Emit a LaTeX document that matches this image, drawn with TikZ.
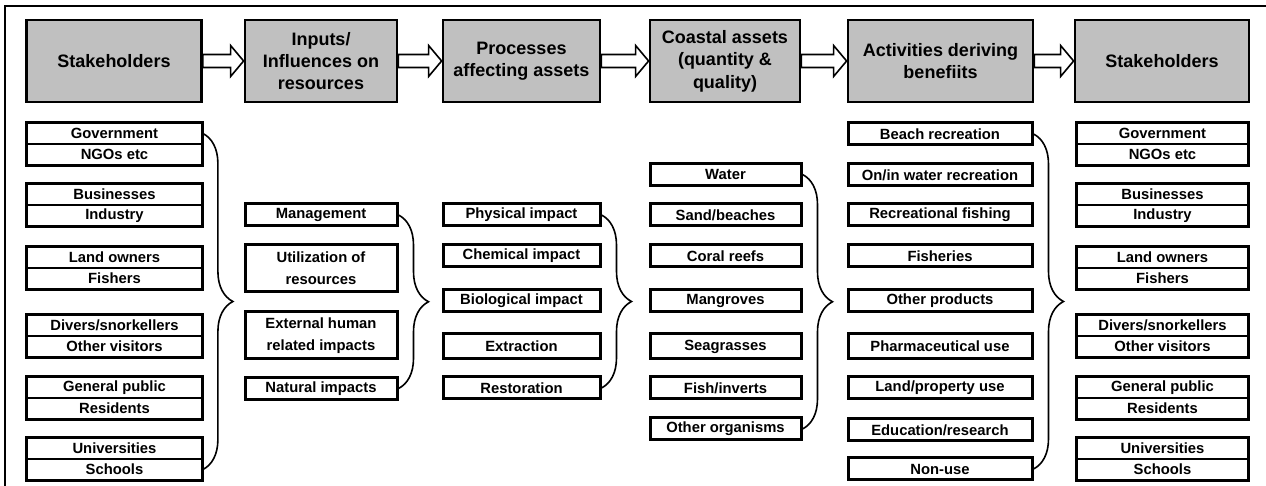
\documentclass[tikz,border=0pt]{standalone}
\usepackage{fontspec}
\setmainfont{Liberation Sans}
\usetikzlibrary{calc,decorations.pathreplacing}
\definecolor{headgray}{HTML}{C0C0C0}
\tikzset{
  head/.style={draw, line width=1.4pt, fill=headgray, minimum width=#1, minimum height=41pt,
    inner sep=0pt, align=center, font=\bfseries\fontsize{9}{11.2}\selectfont},
  item/.style={draw, line width=1.5pt, minimum width=#1, minimum height=11pt,
    inner sep=0pt, align=center, font=\bfseries\fontsize{7.4}{11}\selectfont},
  cell/.style={draw, line width=0.9pt, minimum width=#1, minimum height=10.5pt,
    inner sep=0pt, align=center, font=\bfseries\fontsize{7.4}{11}\selectfont},
  pairbox/.style={line width=1.5pt},
  flow/.style={draw, fill=white, line width=0.8pt, line join=miter},
  grp/.style={decorate, decoration={brace, amplitude=15pt}, line width=0.8pt},
  frame/.style={line width=1pt}
}
\newcommand\flowarrow[2]{%
  \draw[flow] ($(#1.east)+(0,-6.5)$) -- ($(#2.west)+(-13,-6.5)$) -- ($(#2.west)+(-13,-15.5)$)
    -- (#2.west) -- ($(#2.west)+(-13,15.5)$) -- ($(#2.west)+(-13,6.5)$) -- ($(#1.east)+(0,6.5)$) -- cycle;}
\begin{document}
\begin{tikzpicture}[x=0.5pt,y=-0.5pt]
\useasboundingbox (0,0) rectangle (1266,486);
\draw[frame] (5,486) -- (5,6) -- (1266,6);

\node[head=87.5pt] (stakeL) at (114,61) {Stakeholders};
\node[head=76pt] (inputs) at (321,61) {Inputs/\\Influences on\\resources};
\node[head=78.5pt] (proc) at (521.5,61) {Processes\\affecting assets};
\node[head=75pt] (assets) at (725,61) {Coastal assets\\(quantity \&\\quality)};
\node[head=92.5pt] (activ) at (940.5,61) {Activities deriving\\benefiits};
\node[head=87pt] (stakeR) at (1162,61) {Stakeholders};
\flowarrow{stakeL}{inputs}
\flowarrow{inputs}{proc}
\flowarrow{proc}{assets}
\flowarrow{assets}{activ}
\flowarrow{activ}{stakeR}

\node[cell=87.5pt] (gov) at (114.5,133.5) {Government};
\node[cell=87.5pt] (ngo) at (114.5,154.5) {NGOs etc};
\node[cell=87.5pt] (bus) at (114.5,194.5) {Businesses};
\node[cell=87.5pt] (ind) at (114.5,215.5) {Industry};
\node[cell=87.5pt] (land) at (114.5,257.5) {Land owners};
\node[cell=87.5pt] (fish) at (114.5,278.5) {Fishers};
\node[cell=87.5pt] (div) at (114.5,325.5) {Divers/snorkellers};
\node[cell=87.5pt] (vis) at (114.5,346.5) {Other visitors};
\node[cell=87.5pt] (pub) at (114.5,387.5) {General public};
\node[cell=87.5pt] (res) at (114.5,408.5) {Residents};
\node[cell=87.5pt] (uni) at (114.5,448.5) {Universities};
\node[cell=87.5pt] (sch) at (114.5,469.5) {Schools};
\draw[pairbox] (gov.north west) rectangle (ngo.south east);
\draw[pairbox] (bus.north west) rectangle (ind.south east);
\draw[pairbox] (land.north west) rectangle (fish.south east);
\draw[pairbox] (div.north west) rectangle (vis.south east);
\draw[pairbox] (pub.north west) rectangle (res.south east);
\draw[pairbox] (uni.north west) rectangle (sch.south east);
\draw[grp] (gov.east) -- (sch.east);

\node[item=76pt] (mgmt) at (321,215) {Management};
\node[item=76pt, minimum height=23.5pt] (util) at (321,268.5) {Utilization of\\resources};
\node[item=76pt, minimum height=23.5pt] (ext) at (321,335.5) {External human\\related impacts};
\node[item=76pt] (nat) at (321,388.5) {Natural impacts};
\draw[grp] (mgmt.east) -- (nat.east);

\node[item=78.5pt] (phys) at (521.5,215) {Physical impact};
\node[item=78.5pt] (chem) at (521.5,256) {Chemical impact};
\node[item=78.5pt] (bio) at (521.5,301) {Biological impact};
\node[item=78.5pt, minimum height=12.5pt] (extr) at (521.5,346.5) {Extraction};
\node[item=78.5pt] (rest) at (521.5,388) {Restoration};
\draw[grp] (phys.east) -- (rest.east);

\node[item=75.5pt] (water) at (725.5,174.5) {Water};
\node[item=75.5pt] (sand) at (725.5,215) {Sand/beaches};
\node[item=75.5pt] (coral) at (725.5,256) {Coral reefs};
\node[item=75.5pt] (mang) at (725.5,301) {Mangroves};
\node[item=75.5pt, minimum height=12.5pt] (sea) at (725.5,346.5) {Seagrasses};
\node[item=75.5pt] (inv) at (725.5,388) {Fish/inverts};
\node[item=75.5pt] (org) at (725.5,429) {Other organisms};
\draw[grp] (water.east) -- (org.east);

\node[item=92pt] (beach) at (940,134) {Beach recreation};
\node[item=92pt] (onin) at (940,175) {On/in water recreation};
\node[item=92pt] (recf) at (940,215) {Recreational fishing};
\node[item=92pt] (fishe) at (940,256) {Fisheries};
\node[item=92pt] (prod) at (940,301) {Other products};
\node[item=92pt, minimum height=12.5pt] (pharm) at (940,346.5) {Pharmaceutical use};
\node[item=92pt] (prop) at (940,387.5) {Land/property use};
\node[item=92pt] (edu) at (940,430) {Education/research};
\node[item=92pt] (non) at (940,469) {Non-use};
\draw[grp] (beach.east) -- (non.east);

\node[cell=85.5pt] (govR) at (1162.5,133.5) {Government};
\node[cell=85.5pt] (ngoR) at (1162.5,154.5) {NGOs etc};
\node[cell=85.5pt] (busR) at (1162.5,194.5) {Businesses};
\node[cell=85.5pt] (indR) at (1162.5,215.5) {Industry};
\node[cell=85.5pt] (landR) at (1162.5,257.5) {Land owners};
\node[cell=85.5pt] (fishR) at (1162.5,278.5) {Fishers};
\node[cell=85.5pt] (divR) at (1162.5,325.5) {Divers/snorkellers};
\node[cell=85.5pt] (visR) at (1162.5,346.5) {Other visitors};
\node[cell=85.5pt] (pubR) at (1162.5,387.5) {General public};
\node[cell=85.5pt] (resR) at (1162.5,408.5) {Residents};
\node[cell=85.5pt] (uniR) at (1162.5,448.5) {Universities};
\node[cell=85.5pt] (schR) at (1162.5,469.5) {Schools};
\draw[pairbox] (govR.north west) rectangle (ngoR.south east);
\draw[pairbox] (busR.north west) rectangle (indR.south east);
\draw[pairbox] (landR.north west) rectangle (fishR.south east);
\draw[pairbox] (divR.north west) rectangle (visR.south east);
\draw[pairbox] (pubR.north west) rectangle (resR.south east);
\draw[pairbox] (uniR.north west) rectangle (schR.south east);
\end{tikzpicture}
\end{document}
